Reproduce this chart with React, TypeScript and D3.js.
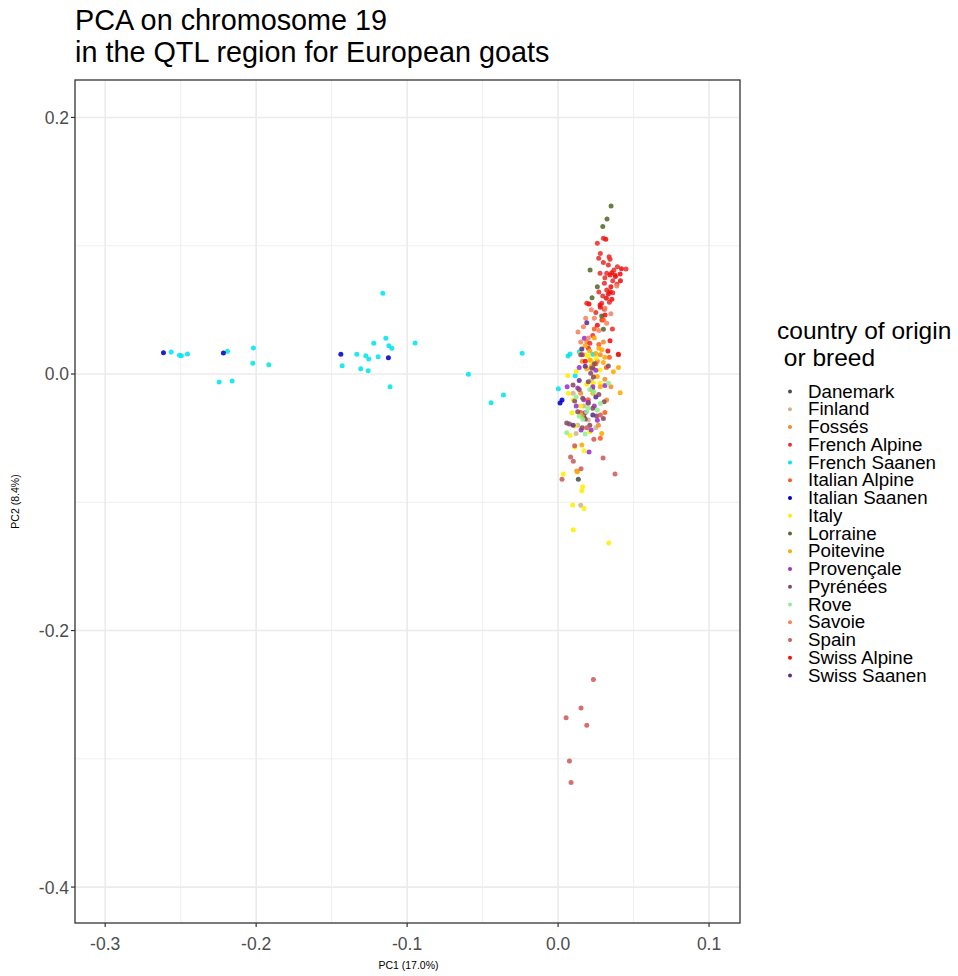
import React from "react";
import * as d3 from "d3";

const titleLines = ["PCA on chromosome 19", "in the QTL region for European goats"];
const xTicks = [-0.3, -0.2, -0.1, 0.0, 0.1];
const yTicks = [0.2, 0.0, -0.2, -0.4];
const xMinor = [-0.25, -0.15, -0.05, 0.05];
const yMinor = [0.1, -0.1, -0.3];
const xLabel = "PC1 (17.0%)";
const yLabel = "PC2 (8.4%)";
const legendTitle = ["country of origin", " or breed"];

const breeds = [
  "Danemark", "Finland", "Fossés", "French Alpine", "French Saanen", "Italian Alpine",
  "Italian Saanen", "Italy", "Lorraine", "Poitevine", "Provençale", "Pyrénées",
  "Rove", "Savoie", "Spain", "Swiss Alpine", "Swiss Saanen",
];
const colors = [
  "#4D4D4D", "#D2B48C", "#F28C28", "#E8312F", "#00E5EE", "#FF5A1F",
  "#0000CD", "#FFEE00", "#556B2F", "#FFAA00", "#9932CC", "#8B4A62",
  "#90EE90", "#F4845F", "#CD5C5C", "#EE1111", "#5E2C91",
];

type P = [number, number];
const danemark: P[] = [[0.0134, -0.0821], [0.0227, -0.0119], [0.0170, -0.0330]];
const finland: P[] = [
  [0.0150, -0.1023], [0.0119, -0.0464], [0.0200, -0.0359], [0.0130, -0.0400], [0.0170, -0.0250],
  [0.0220, -0.0050], [0.0100, -0.0150], [0.0250, -0.0420],
];
const fosses: P[] = [
  [0.0124, -0.0757], [0.0322, -0.0203], [0.0267, -0.0400], [0.0220, -0.0120], [0.0280, 0.0150],
  [0.0300, 0.0250], [0.0160, 0.0100], [0.0350, -0.0100], [0.0190, 0.0250], [0.0260, 0.0100],
  [0.0150, -0.0150], [0.0310, -0.0040],
];
const frenchAlpine: P[] = [
  [0.0269, 0.0902], [0.0338, 0.0915], [0.0344, 0.0894], [0.0393, 0.0837], [0.0450, 0.0819],
  [0.0333, 0.0850], [0.0278, 0.0785], [0.0322, 0.0785], [0.0377, 0.0772], [0.0307, 0.0707],
  [0.0362, 0.0727], [0.0322, 0.0655], [0.0362, 0.0634], [0.0296, 0.0608], [0.0190, 0.0551],
  [0.0289, 0.0551], [0.0307, 0.0504], [0.0260, 0.1019], [0.0300, 0.1058], [0.0201, 0.0200],
  [0.0280, 0.0940], [0.0300, 0.0870], [0.0370, 0.0810], [0.0310, 0.0750], [0.0390, 0.0700],
  [0.0270, 0.0640], [0.0340, 0.0560], [0.0250, 0.0480], [0.0290, 0.0420], [0.0230, 0.0300],
  [0.0360, 0.0350], [0.0210, 0.0240],
];
const frenchSaanen: P[] = [
  [-0.2563, 0.0172], [-0.2508, 0.0146], [-0.2495, 0.0143], [-0.2455, 0.0156], [-0.2190, 0.0177],
  [-0.2018, 0.0203], [-0.2022, 0.0083], [-0.1916, 0.0073], [-0.2245, -0.0062], [-0.2159, -0.0055],
  [-0.1430, 0.0065], [-0.1333, 0.0154], [-0.1274, 0.0143], [-0.1254, 0.0117], [-0.1192, 0.0135],
  [-0.1307, 0.0041], [-0.1258, 0.0026], [-0.1221, 0.0239], [-0.1141, 0.0278], [-0.1121, 0.0221],
  [-0.1101, 0.0200], [-0.1113, -0.0099], [-0.1161, 0.0629], [-0.0947, 0.0242], [-0.0238, 0.0161],
  [-0.0594, -0.0002], [-0.0362, -0.0164], [-0.0444, -0.0224], [0.0066, 0.0140], [0.0079, 0.0156],
  [0.0113, -0.0013], [0.0002, -0.0115], [0.0141, 0.0174], [0.0230, 0.0154],
];
const italianAlpine: P[] = [
  [0.0300, 0.0420], [0.0250, 0.0080], [0.0340, 0.0130], [0.0200, -0.0200], [0.0310, -0.0300],
  [0.0270, 0.0230], [0.0240, 0.0350], [0.0320, 0.0050], [0.0150, -0.0300], [0.0280, -0.0500],
];
const italianSaanen: P[] = [[-0.2614, 0.0166], [-0.2217, 0.0164], [-0.1439, 0.0154], [-0.1124, 0.0127], [0.0026, -0.0203], [0.0013, -0.0226]];
const italy: P[] = [
  [0.0064, -0.0013], [0.0068, -0.0150], [0.0101, -0.0203], [0.0092, -0.0302], [0.0113, -0.0406],
  [0.0110, -0.0572], [0.0172, -0.0598], [0.0035, -0.0780], [0.0163, -0.0879], [0.0157, -0.0910],
  [0.0097, -0.1022], [0.0172, -0.1049], [0.0101, -0.1215], [0.0336, -0.1318], [0.0234, -0.0073],
  [0.0278, -0.0073], [0.0252, 0.0125], [0.0278, 0.0031], [0.0200, 0.0140], [0.0180, 0.0150],
  [0.0240, -0.0020], [0.0150, 0.0160], [0.0220, 0.0100], [0.0120, 0.0020], [0.0190, -0.0080],
  [0.0150, -0.0250], [0.0080, -0.0480], [0.0210, -0.0450],
];
const lorraine: P[] = [[0.0351, 0.1310], [0.0324, 0.1209], [0.0296, 0.1149], [0.0212, 0.0811], [0.0260, 0.0681], [0.0225, 0.0595], [0.0289, 0.0452], [0.0300, 0.0348], [0.0230, 0.0050]];
const poitevine: P[] = [
  [0.0411, -0.0146], [0.0366, 0.0018], [0.0157, -0.0554], [0.0128, -0.0762], [0.0289, -0.0463],
  [0.0212, 0.0109], [0.0250, 0.0160], [0.0290, 0.0190], [0.0300, 0.0090], [0.0180, 0.0220],
  [0.0260, -0.0020], [0.0220, 0.0060], [0.0400, 0.0050], [0.0240, 0.0280], [0.0270, 0.0200],
  [0.0210, 0.0180], [0.0310, 0.0130], [0.0190, 0.0040], [0.0280, -0.0100], [0.0230, -0.0150],
  [0.0160, -0.0320],
];
const provencale: P[] = [
  [0.0174, 0.0278], [0.0160, 0.0150], [0.0250, 0.0030], [0.0130, -0.0110], [0.0170, -0.0200],
  [0.0200, -0.0220], [0.0260, -0.0360], [0.0205, -0.0608], [0.0152, -0.0437], [0.0219, -0.0437],
  [0.0060, -0.0100], [0.0310, -0.0090], [0.0140, 0.0050], [0.0230, -0.0100], [0.0180, -0.0300],
  [0.0120, -0.0250], [0.0240, -0.0250],
];
const pyrenees: P[] = [
  [0.0099, -0.0086], [0.0057, -0.0382], [0.0075, -0.0390], [0.0199, -0.0229], [0.0305, -0.0216],
  [0.0333, 0.0062], [0.0163, -0.0190], [0.0130, -0.0294], [0.0255, -0.0328], [0.0300, -0.0346],
  [0.0230, -0.0268], [0.0150, 0.0150], [0.0223, 0.0044], [0.0216, 0.0005], [0.0234, -0.0023],
  [0.0140, -0.0120], [0.0180, -0.0350], [0.0210, -0.0400], [0.0110, -0.0210], [0.0270, -0.0160],
  [0.0240, 0.0080], [0.0200, -0.0060], [0.0160, -0.0420],
];
const rove: P[] = [
  [0.0334, -0.0073], [0.0199, -0.0268], [0.0189, -0.0294], [0.0057, -0.0458], [0.0179, -0.0468],
  [0.0163, -0.0353], [0.0238, -0.0138], [0.0260, -0.0280], [0.0140, -0.0330], [0.0210, -0.0120],
  [0.0120, -0.0180], [0.0280, -0.0230],
];
const savoie: P[] = [
  [0.0168, 0.0369], [0.0240, 0.0434], [0.0183, 0.0434], [0.0322, 0.0395], [0.0389, 0.0686],
  [0.0311, 0.0512], [0.0132, 0.0327], [0.0200, 0.0280], [0.0270, 0.0340], [0.0150, 0.0250],
  [0.0350, 0.0470], [0.0220, 0.0500],
];
const spain: P[] = [
  [0.0234, -0.2381], [0.0152, -0.2604], [0.0053, -0.2680], [0.0190, -0.2739], [0.0075, -0.3018],
  [0.0086, -0.3184], [0.0377, -0.0780], [0.0298, -0.0655], [0.0083, -0.0647], [0.0101, -0.0681],
  [0.0152, -0.0738], [0.0026, -0.0820], [0.0237, -0.0508], [0.0400, 0.0150], [0.0190, -0.0420],
  [0.0280, -0.0320], [0.0110, -0.0560],
];
const swissAlpine: P[] = [
  [0.0344, 0.0772], [0.0356, 0.0790], [0.0411, 0.0780], [0.0413, 0.0727], [0.0344, 0.0642],
  [0.0333, 0.0624], [0.0356, 0.0582], [0.0205, 0.0546], [0.0278, 0.0538], [0.0311, 0.0460],
  [0.0316, 0.1050], [0.0344, 0.0260], [0.0399, 0.0154], [0.0420, 0.0820], [0.0380, 0.0760],
  [0.0350, 0.0680], [0.0320, 0.0590], [0.0280, 0.0520], [0.0260, 0.0380], [0.0330, 0.0180],
  [0.0180, 0.0100],
];
const swissSaanen: P[] = [
  [0.0190, 0.0400], [0.0157, 0.0195], [0.0140, -0.0050], [0.0230, -0.0320], [0.0100, -0.0400],
  [0.0180, 0.0060], [0.0250, -0.0180],
];

const seriesData: P[][] = [
  danemark, finland, fosses, frenchAlpine, frenchSaanen, italianAlpine, italianSaanen, italy,
  lorraine, poitevine, provencale, pyrenees, rove, savoie, spain, swissAlpine, swissSaanen,
];

const FONT = "'Liberation Sans', Arial, Helvetica, sans-serif";

export default function App() {
  const left = 75, right = 740, top = 80, bottom = 923;
  const x = d3.scaleLinear().domain([-0.32, 0.1205]).range([left, right]);
  const y = d3.scaleLinear().domain([-0.428, 0.2292]).range([bottom, top]);
  const fmt = (v: number) => v.toFixed(1);
  const grid = "#EBEBEB";
  return (
    <svg width={958} height={976} style={{ position: "absolute", left: 0, top: 0, background: "#fff" }} fontFamily={FONT}>
      <rect x={0} y={0} width={958} height={976} fill="#fff" />
      {titleLines.map((t, i) => (
        <text key={t} x={75} y={30 + i * 32} fontSize={28.8} fill="#000">{t}</text>
      ))}
      {xMinor.map((v) => <line key={"xm" + v} x1={x(v)} x2={x(v)} y1={top} y2={bottom} stroke={grid} strokeWidth={0.8} />)}
      {yMinor.map((v) => <line key={"ym" + v} y1={y(v)} y2={y(v)} x1={left} x2={right} stroke={grid} strokeWidth={0.8} />)}
      {xTicks.map((v) => <line key={"xg" + v} x1={x(v)} x2={x(v)} y1={top} y2={bottom} stroke={grid} strokeWidth={1.6} />)}
      {yTicks.map((v) => <line key={"yg" + v} y1={y(v)} y2={y(v)} x1={left} x2={right} stroke={grid} strokeWidth={1.6} />)}
      {seriesData.map((pts, si) =>
        pts.map((p, i) => (
          <circle key={si + "-" + i} cx={x(p[0])} cy={y(p[1])} r={2.5} fill={colors[si]} fillOpacity={0.88} />
        ))
      )}
      <rect x={left} y={top} width={right - left} height={bottom - top} fill="none" stroke="#333" strokeWidth={1.3} />
      {xTicks.map((v) => (
        <g key={"xt" + v}>
          <line x1={x(v)} x2={x(v)} y1={bottom} y2={bottom + 4} stroke="#333" strokeWidth={1.2} />
          <text x={x(v)} y={bottom + 27} fontSize={17.5} fill="#4D4D4D" textAnchor="middle">{fmt(v)}</text>
        </g>
      ))}
      {yTicks.map((v) => (
        <g key={"yt" + v}>
          <line x1={left - 4} x2={left} y1={y(v)} y2={y(v)} stroke="#333" strokeWidth={1.2} />
          <text x={left - 6} y={y(v) + 6.5} fontSize={17.5} fill="#4D4D4D" textAnchor="end">{fmt(v)}</text>
        </g>
      ))}
      <text x={(left + right) / 2 + 1} y={969} fontSize={10.5} fill="#000" textAnchor="middle">{xLabel}</text>
      <text transform={`translate(19,${(top + bottom) / 2}) rotate(-90)`} fontSize={10.5} fill="#000" textAnchor="middle">{yLabel}</text>
      {legendTitle.map((t, i) => (
        <text key={"lt" + i} x={777} y={339 + i * 27} fontSize={24.5} fill="#000" style={{ whiteSpace: "pre" }}>{t}</text>
      ))}
      {breeds.map((b, i) => (
        <g key={b}>
          <circle cx={790} cy={391.5 + i * 17.75} r={2} fill={colors[i]} />
          <text transform={`translate(808,${397.5 + i * 17.75}) scale(1.07,1)`} fontSize={17.5} fill="#000">{b}</text>
        </g>
      ))}
    </svg>
  );
}
